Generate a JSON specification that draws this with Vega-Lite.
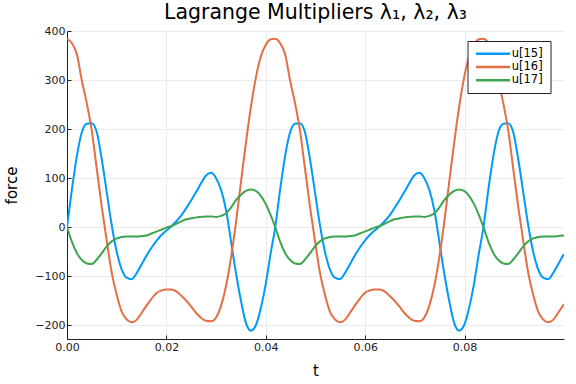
{
  "$schema": "https://vega.github.io/schema/vega-lite/v6.json",
  "width": 497,
  "height": 308,
  "autosize": {"type": "none"},
  "padding": {"left": 67, "top": 31, "right": 12, "bottom": 45},
  "background": "white",
  "title": {"text": "Lagrange Multipliers λ₁, λ₂, λ₃", "font": "DejaVu Sans", "fontSize": 20.5, "fontWeight": "normal", "color": "#000", "anchor": "middle", "offset": 2},
  "config": {
    "view": {"stroke": null},
    "axis": {"domainColor": "#222", "domainWidth": 1, "tickColor": "#222", "tickSize": -4, "labelFont": "DejaVu Sans", "labelFontSize": 11, "labelColor": "#222", "titleFont": "DejaVu Sans", "titleFontSize": 15, "titleFontWeight": "normal", "titleColor": "#000", "gridColor": "#ebebeb", "gridWidth": 1, "labelPadding": 6}
  },
  "data": {"values": [
    {"t": 0, "u15": 0, "u16": 384, "u17": 0},
    {"t": 0.001, "u15": 78, "u16": 375, "u17": -30},
    {"t": 0.002, "u15": 146, "u16": 352, "u17": -53},
    {"t": 0.003, "u15": 194, "u16": 298, "u17": -67},
    {"t": 0.004, "u15": 211, "u16": 252, "u17": -74},
    {"t": 0.005, "u15": 212, "u16": 196, "u17": -75},
    {"t": 0.006, "u15": 193, "u16": 118, "u17": -66},
    {"t": 0.007, "u15": 138, "u16": 41, "u17": -53},
    {"t": 0.008, "u15": 71, "u16": -28, "u17": -39},
    {"t": 0.009, "u15": 4, "u16": -93, "u17": -29},
    {"t": 0.010, "u15": -50, "u16": -138, "u17": -23},
    {"t": 0.011, "u15": -86, "u16": -172, "u17": -20},
    {"t": 0.012, "u15": -103, "u16": -188, "u17": -19},
    {"t": 0.013, "u15": -106, "u16": -194, "u17": -19},
    {"t": 0.014, "u15": -94, "u16": -189, "u17": -19},
    {"t": 0.015, "u15": -76, "u16": -175, "u17": -18},
    {"t": 0.016, "u15": -58, "u16": -160, "u17": -17},
    {"t": 0.017, "u15": -42, "u16": -146, "u17": -13},
    {"t": 0.018, "u15": -28, "u16": -134, "u17": -9},
    {"t": 0.019, "u15": -16, "u16": -129, "u17": -5},
    {"t": 0.020, "u15": -7, "u16": -127, "u17": -1},
    {"t": 0.021, "u15": 2, "u16": -127, "u17": 2},
    {"t": 0.022, "u15": 12, "u16": -131, "u17": 7},
    {"t": 0.023, "u15": 24, "u16": -140, "u17": 12},
    {"t": 0.024, "u15": 39, "u16": -150, "u17": 16},
    {"t": 0.025, "u15": 55, "u16": -162, "u17": 18},
    {"t": 0.026, "u15": 72, "u16": -175, "u17": 20},
    {"t": 0.027, "u15": 90, "u16": -185, "u17": 21},
    {"t": 0.028, "u15": 106, "u16": -191, "u17": 22},
    {"t": 0.029, "u15": 111, "u16": -192, "u17": 22},
    {"t": 0.030, "u15": 100, "u16": -184, "u17": 21},
    {"t": 0.031, "u15": 76, "u16": -160, "u17": 23},
    {"t": 0.032, "u15": 35, "u16": -120, "u17": 28},
    {"t": 0.033, "u15": -29, "u16": -62, "u17": 40},
    {"t": 0.034, "u15": -94, "u16": 10, "u17": 55},
    {"t": 0.035, "u15": -150, "u16": 92, "u17": 66},
    {"t": 0.036, "u15": -195, "u16": 172, "u17": 74},
    {"t": 0.037, "u15": -211, "u16": 245, "u17": 77},
    {"t": 0.038, "u15": -200, "u16": 305, "u17": 74},
    {"t": 0.039, "u15": -165, "u16": 348, "u17": 64},
    {"t": 0.040, "u15": -115, "u16": 372, "u17": 47},
    {"t": 0.041, "u15": -52, "u16": 383, "u17": 24},
    {"t": 0.0419, "u15": 0, "u16": 384, "u17": 0},
    {"t": 0.0429, "u15": 78, "u16": 375, "u17": -30},
    {"t": 0.0439, "u15": 146, "u16": 352, "u17": -53},
    {"t": 0.0449, "u15": 194, "u16": 298, "u17": -67},
    {"t": 0.0459, "u15": 211, "u16": 252, "u17": -74},
    {"t": 0.0469, "u15": 212, "u16": 196, "u17": -75},
    {"t": 0.0479, "u15": 193, "u16": 118, "u17": -66},
    {"t": 0.0489, "u15": 138, "u16": 41, "u17": -53},
    {"t": 0.0499, "u15": 71, "u16": -28, "u17": -39},
    {"t": 0.0509, "u15": 4, "u16": -93, "u17": -29},
    {"t": 0.0519, "u15": -50, "u16": -138, "u17": -23},
    {"t": 0.0529, "u15": -86, "u16": -172, "u17": -20},
    {"t": 0.0539, "u15": -103, "u16": -188, "u17": -19},
    {"t": 0.0549, "u15": -106, "u16": -194, "u17": -19},
    {"t": 0.0559, "u15": -94, "u16": -189, "u17": -19},
    {"t": 0.0569, "u15": -76, "u16": -175, "u17": -18},
    {"t": 0.0579, "u15": -58, "u16": -160, "u17": -17},
    {"t": 0.0589, "u15": -42, "u16": -146, "u17": -13},
    {"t": 0.0599, "u15": -28, "u16": -134, "u17": -9},
    {"t": 0.0609, "u15": -16, "u16": -129, "u17": -5},
    {"t": 0.0619, "u15": -7, "u16": -127, "u17": -1},
    {"t": 0.0629, "u15": 2, "u16": -127, "u17": 2},
    {"t": 0.0639, "u15": 12, "u16": -131, "u17": 7},
    {"t": 0.0649, "u15": 24, "u16": -140, "u17": 12},
    {"t": 0.0659, "u15": 39, "u16": -150, "u17": 16},
    {"t": 0.0669, "u15": 55, "u16": -162, "u17": 18},
    {"t": 0.0679, "u15": 72, "u16": -175, "u17": 20},
    {"t": 0.0689, "u15": 90, "u16": -185, "u17": 21},
    {"t": 0.0699, "u15": 106, "u16": -191, "u17": 22},
    {"t": 0.0709, "u15": 111, "u16": -192, "u17": 22},
    {"t": 0.0719, "u15": 100, "u16": -184, "u17": 21},
    {"t": 0.0729, "u15": 76, "u16": -160, "u17": 23},
    {"t": 0.0739, "u15": 35, "u16": -120, "u17": 28},
    {"t": 0.0749, "u15": -29, "u16": -62, "u17": 40},
    {"t": 0.0759, "u15": -94, "u16": 10, "u17": 55},
    {"t": 0.0769, "u15": -150, "u16": 92, "u17": 66},
    {"t": 0.0779, "u15": -195, "u16": 172, "u17": 74},
    {"t": 0.0789, "u15": -211, "u16": 245, "u17": 77},
    {"t": 0.0799, "u15": -200, "u16": 305, "u17": 74},
    {"t": 0.0809, "u15": -165, "u16": 348, "u17": 64},
    {"t": 0.0819, "u15": -115, "u16": 372, "u17": 47},
    {"t": 0.0829, "u15": -52, "u16": 383, "u17": 24},
    {"t": 0.0838, "u15": 0, "u16": 384, "u17": 0},
    {"t": 0.0848, "u15": 78, "u16": 375, "u17": -30},
    {"t": 0.0858, "u15": 146, "u16": 352, "u17": -53},
    {"t": 0.0868, "u15": 194, "u16": 298, "u17": -67},
    {"t": 0.0878, "u15": 211, "u16": 252, "u17": -74},
    {"t": 0.0888, "u15": 212, "u16": 196, "u17": -75},
    {"t": 0.0898, "u15": 193, "u16": 118, "u17": -66},
    {"t": 0.0908, "u15": 138, "u16": 41, "u17": -53},
    {"t": 0.0918, "u15": 71, "u16": -28, "u17": -39},
    {"t": 0.0928, "u15": 4, "u16": -93, "u17": -29},
    {"t": 0.0938, "u15": -50, "u16": -138, "u17": -23},
    {"t": 0.0948, "u15": -86, "u16": -172, "u17": -20},
    {"t": 0.0958, "u15": -103, "u16": -188, "u17": -19},
    {"t": 0.0968, "u15": -106, "u16": -194, "u17": -19},
    {"t": 0.0978, "u15": -94, "u16": -189, "u17": -19},
    {"t": 0.0988, "u15": -76, "u16": -175, "u17": -18},
    {"t": 0.0998, "u15": -58, "u16": -160, "u17": -17},
    {"t": 0.1, "u15": -55, "u16": -157, "u17": -17}
  ]},
  "transform": [{"fold": ["u15", "u16", "u17"], "as": ["series", "value"]}],
  "mark": {"type": "line", "strokeWidth": 2, "interpolate": "monotone", "clip": true},
  "encoding": {
    "x": {"field": "t", "type": "quantitative", "scale": {"domain": [0, 0.1], "nice": false, "zero": false},
      "axis": {"title": "t", "values": [0, 0.02, 0.04, 0.06, 0.08], "format": ".2f", "labelFlush": false, "titlePadding": 11}},
    "y": {"field": "value", "type": "quantitative", "scale": {"domain": [-228, 400], "nice": false, "zero": false},
      "axis": {"title": "force", "values": [-200, -100, 0, 100, 200, 300, 400], "titlePadding": 15}},
    "color": {"field": "series", "type": "nominal", "scale": {"domain": ["u15", "u16", "u17"], "range": ["#009AFA", "#E26F46", "#3EA44E"]},
      "legend": {"orient": "none", "legendX": 400.5, "legendY": 10, "title": null, "symbolType": "M-5.67,0H5.67", "symbolSize": 36, "symbolStrokeWidth": 2.5, "symbolOffset": 12.75, "labelFont": "DejaVu Sans", "labelFontSize": 11.5, "labelColor": "#000", "strokeColor": "#222", "fillColor": "#fff", "padding": 7, "rowPadding": 0.2, "labelOffset": 13, "cornerRadius": 0, "labelExpr": "'u[' + slice(datum.label, 1) + ']'"}}
  }
}
